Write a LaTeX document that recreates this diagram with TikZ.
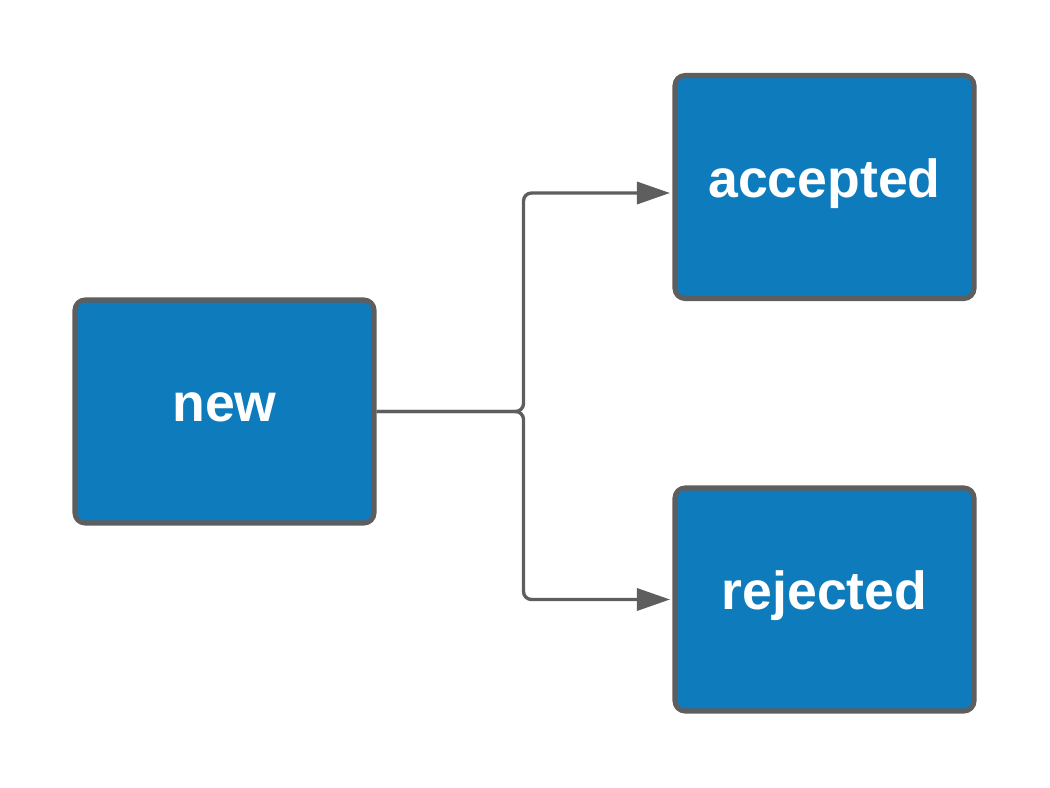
\documentclass[tikz,border=0pt]{standalone}
\usepackage{fontspec}
\setmainfont{Liberation Sans}
\usetikzlibrary{arrows.meta}
\definecolor{boxblue}{RGB}{14,123,189}
\definecolor{edgegray}{RGB}{94,94,94}
\tikzset{
  state/.style={draw=edgegray, line width=2.85pt, fill=boxblue, rounded corners=0.2cm,
    minimum width=5.98cm, minimum height=4.46cm, text=white,
    font=\fontsize{30.5}{36}\selectfont\bfseries, text height=0.6cm, text depth=0.2cm},
  link/.style={draw=edgegray, line width=1.9pt, rounded corners=0.16cm,
    -{Triangle[length=0.66cm, width=0.44cm]}, shorten >=0.05cm}
}
\begin{document}
\begin{tikzpicture}
      \useasboundingbox (0,0) rectangle (21,-15.76);
      \draw
        (4.49,-8.23) node[state] (new){new}
        (16.49,-3.74) node[state] (accepted){accepted}
        (16.49,-11.99) node[state] (rejected){rejected};
      \begin{scope}[link]
        \draw (new.east) -- ++(2.94,0) |- ([yshift=-0.12cm]accepted.west);
        \draw (new.east) -- ++(2.94,0) |- (rejected.west);
      \end{scope}
    \end{tikzpicture}
\end{document}
